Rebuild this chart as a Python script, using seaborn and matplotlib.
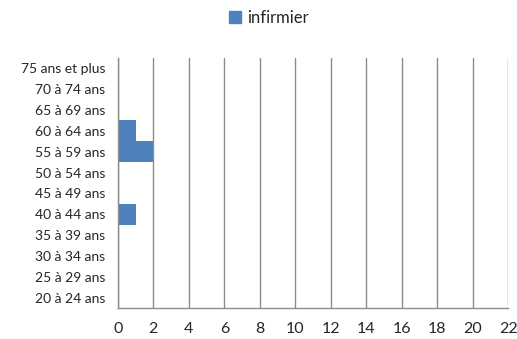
import matplotlib
matplotlib.use("Agg")
import matplotlib.pyplot as plt
import seaborn as sns
import pandas as pd
from matplotlib.ticker import FixedLocator

# données
tranches = ["75 ans et plus", "70 à 74 ans", "65 à 69 ans", "60 à 64 ans",
            "55 à 59 ans", "50 à 54 ans", "45 à 49 ans", "40 à 44 ans",
            "35 à 39 ans", "30 à 34 ans", "25 à 29 ans", "20 à 24 ans"]
infirmier = [0, 0, 0, 1, 2, 0, 0, 1, 0, 0, 0, 0]
x_ticks = list(range(0, 23, 2))

df = pd.DataFrame({"tranche": tranches, "infirmier": infirmier})

sns.set_style("white")
plt.rcParams['font.family'] = ['Lato', 'DejaVu Sans']

fig = plt.figure(figsize=(5.17, 3.39), dpi=100)
ax = fig.add_axes([0.228, 0.0914, 0.755, 0.738])

sns.barplot(data=df, x="infirmier", y="tranche", orient="h", order=tranches,
            color="#4F81BD", width=1.0, saturation=1, ax=ax, linewidth=0)

grey = "#8c8c8c"
ax.set_xlim(0, 22)
ax.set_ylim(len(tranches) - 0.5, -0.5)
ax.set_xticks(x_ticks)
ax.set_xticklabels([str(t) for t in x_ticks], fontsize=11.5)
ax.grid(axis="x", color=grey, linewidth=1)
ax.set_axisbelow(True)

# ticks y aux limites des catégories
ax.yaxis.set_minor_locator(FixedLocator([i - 0.5 for i in range(len(tranches) + 1)]))
ax.tick_params(axis="y", which="major", length=0, labelsize=10, pad=9)
ax.tick_params(axis="y", which="minor", length=5, color=grey, width=1, direction="out")
ax.tick_params(axis="x", length=5, color=grey, width=1, direction="out", pad=5)

for s in ["top", "right"]:
    ax.spines[s].set_visible(False)
for s in ["left", "bottom"]:
    ax.spines[s].set_color(grey)
    ax.spines[s].set_linewidth(1)

ax.set_xlabel("")
ax.set_ylabel("")

handle = plt.Rectangle((0, 0), 1, 1, color="#4F81BD")
fig.legend([handle], ["infirmier"], loc="center", bbox_to_anchor=(0.52, 0.947),
           frameon=False, fontsize=12, handlelength=0.7, handleheight=0.7,
           handletextpad=0.4)

fig.savefig("out.png", dpi=100)
